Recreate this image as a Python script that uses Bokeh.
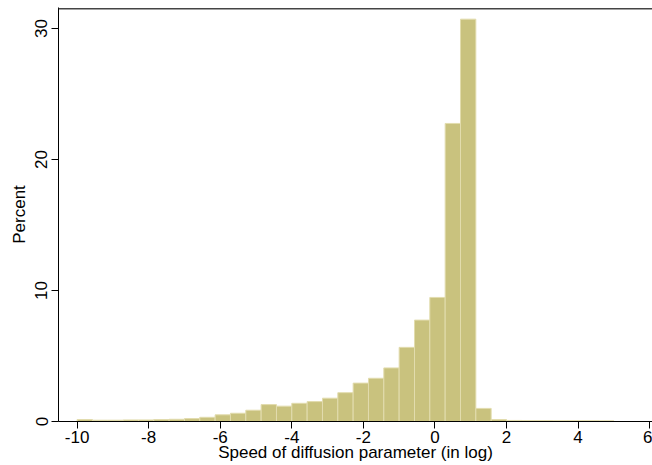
import numpy as np
from bokeh.plotting import figure
from bokeh.models import Range1d, FixedTicker, Span
from bokeh.embed import file_html
from bokeh.resources import INLINE

# Histogram data: 35 bins from -10 to 5
bin_start = -10.0
bin_end = 5.0
n_bins = 35
percent = [0.15, 0.10, 0.10, 0.12, 0.12, 0.15, 0.17, 0.22, 0.32, 0.51,
           0.63, 0.86, 1.29, 1.17, 1.39, 1.52, 1.78, 2.20, 2.93, 3.30,
           4.09, 5.66, 7.74, 9.47, 22.75, 30.71, 1.00, 0.15, 0.08, 0.07,
           0.07, 0.06, 0.06, 0.06, 0.05]
x_ticks = [-10, -8, -6, -4, -2, 0, 2, 4, 6]
x_tick_labels = ["-10", "-8", "-6", "-4", "-2", "0", "2", "4", "6"]
y_ticks = [0, 10, 20, 30]
y_tick_labels = ["0", "10", "20", "30"]

edges = np.linspace(bin_start, bin_end, n_bins + 1)

FONT = "Liberation Sans"

p = figure(width=652, height=465, output_backend="svg", toolbar_location=None,
           x_range=Range1d(-10.52, 6.08), y_range=Range1d(0, 31.6),
           min_border_left=58, min_border_right=0, min_border_top=7,
           min_border_bottom=44)
p.background_fill_color = "white"
p.border_fill_color = "white"
p.outline_line_color = None
p.grid.visible = False

p.quad(left=edges[:-1], right=edges[1:], bottom=0, top=percent,
       fill_color="#c9c27e", line_color="#e2dcae", line_width=1)

top_line = Span(location=31.5, dimension="width", line_color="#444444", line_width=1.5)
p.add_layout(top_line)

for ax in (p.xaxis, p.yaxis):
    ax.axis_line_color = "black"
    ax.axis_line_width = 1
    ax.major_tick_line_color = "black"
    ax.major_tick_out = 7
    ax.major_tick_in = 0
    ax.minor_tick_line_color = None
    ax.major_label_text_font = FONT
    ax.major_label_text_font_size = "17px"
    ax.major_label_text_color = "black"
    ax.axis_label_text_font = FONT
    ax.axis_label_text_font_size = "17px"
    ax.axis_label_text_font_style = "normal"
    ax.axis_label_text_color = "black"

p.xaxis.ticker = FixedTicker(ticks=x_ticks)
p.yaxis.ticker = FixedTicker(ticks=y_ticks)
p.xaxis.major_label_overrides = {t: s for t, s in zip(x_ticks, x_tick_labels)}
p.yaxis.major_label_overrides = {t: s for t, s in zip(y_ticks, y_tick_labels)}
p.xaxis.axis_label = "Speed of diffusion parameter (in log)"
p.yaxis.axis_label = "Percent"
p.yaxis.major_label_orientation = "vertical"
p.xaxis.major_label_standoff = 2
p.xaxis.axis_label_standoff = -3
p.yaxis.major_label_standoff = 4
p.yaxis.axis_label_standoff = 4

open("out.html", "w").write(file_html(p, INLINE))
